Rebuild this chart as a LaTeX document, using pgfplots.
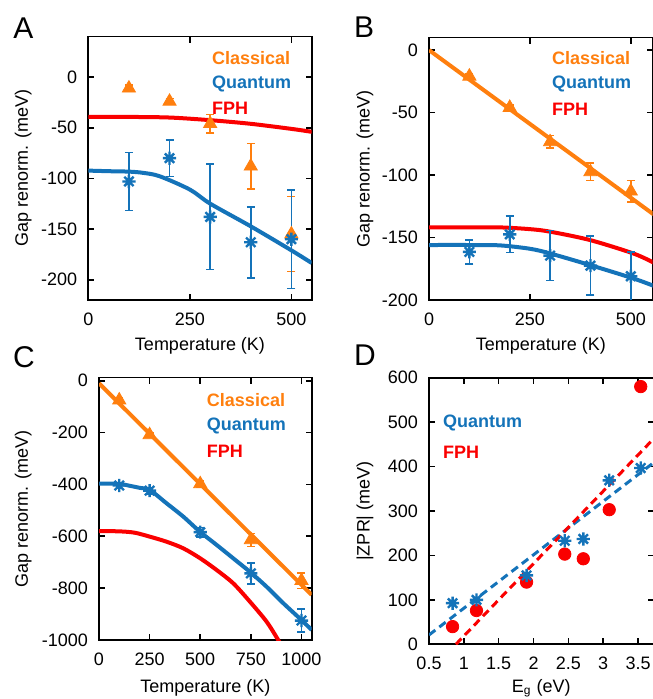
\documentclass[border=0pt]{standalone}
\usepackage{fontspec}
\setmainfont{Liberation Sans}
\usepackage{pgfplots}
\pgfplotsset{compat=1.18}
\definecolor{cls}{RGB}{255,127,14}
\definecolor{qnt}{RGB}{20,115,185}
\definecolor{fph}{RGB}{250,0,0}

% gnuplot-like eight-armed star
\pgfdeclareplotmark{ast8}{%
  \pgfpathmoveto{\pgfqpoint{-\pgfplotmarksize}{0pt}}%
  \pgfpathlineto{\pgfqpoint{\pgfplotmarksize}{0pt}}%
  \pgfpathmoveto{\pgfqpoint{0pt}{-\pgfplotmarksize}}%
  \pgfpathlineto{\pgfqpoint{0pt}{\pgfplotmarksize}}%
  \pgfpathmoveto{\pgfqpoint{-.707\pgfplotmarksize}{-.707\pgfplotmarksize}}%
  \pgfpathlineto{\pgfqpoint{.707\pgfplotmarksize}{.707\pgfplotmarksize}}%
  \pgfpathmoveto{\pgfqpoint{-.707\pgfplotmarksize}{.707\pgfplotmarksize}}%
  \pgfpathlineto{\pgfqpoint{.707\pgfplotmarksize}{-.707\pgfplotmarksize}}%
  \pgfusepathqstroke}

\newcommand{\lab}{\fontsize{9}{10}\selectfont}
\tikzset{leg/.style={anchor=west, inner sep=0pt, font=\bfseries\lab},
  letter/.style={font=\fontsize{15}{17}\selectfont, inner sep=0pt}}
\pgfplotsset{
  pan/.style={
    scale only axis, anchor=south west,
    axis line style={line width=0.9pt},
    tick style={black, line width=0.8pt},
    tick align=inside, major tick length=3pt,
    ticklabel style={font=\lab},
    label style={font=\lab},
    /pgf/number format/assume math mode=true,
    /pgf/number format/1000 sep={},
    xticklabel style={yshift=-3pt},
    yticklabel style={xshift=-2pt},
  },
  curve/.style={line width=2pt, smooth, no marks},
  clpts/.style={only marks, cls, mark=triangle*, mark size=3.8pt,
    error bars/.cd, y dir=both, y explicit,
    error bar style={line width=0.8pt},
    error mark options={rotate=90, mark size=2pt, line width=0.8pt}},
  qpts/.style={only marks, qnt, mark=ast8, mark size=3.3pt, mark options={line width=1.2pt},
    error bars/.cd, y dir=both, y explicit,
    error bar style={line width=0.8pt},
    error mark options={rotate=90, mark size=2pt, line width=0.8pt}},
}

\begin{document}
\begin{tikzpicture}
% ---------- A ----------
\begin{axis}[pan, at={(44.15pt,199.5pt)}, width=111.7pt, height=131.7pt,
  xmin=0, xmax=550, ymin=-220, ymax=40,
  xtick={0,250,500}, ytick={-200,-150,-100,-50,0},
  xlabel={Temperature (K)}, ylabel={Gap renorm. (meV)},
  xlabel style={at={(axis description cs:0.5,-0.175)}, anchor=center},
  ylabel style={at={(axis description cs:-0.291,0.5)}, anchor=center}]
\addplot[curve, fph] coordinates {(0,-39.2)(100,-39.3)(200,-39.9)(300,-42.5)(400,-46.1)(500,-51.1)(550,-54)};
\addplot[clpts] coordinates {
  (100,-11) +- (0,3)
  (200,-24) +- (0,3)
  (300,-46) +- (0,9)
  (400,-88) +- (0,22.5)
  (500,-155) +- (0,37)};
\addplot[curve, qnt] coordinates {(0,-92.3)(53,-92.9)(100,-93.3)(135,-94.5)(176,-97.9)(250,-111)(300,-124.9)(400,-147.3)(500,-171)(550,-183.5)};
\addplot[qpts] coordinates {
  (100,-103) +- (0,28.5)
  (200,-80) +- (0,18)
  (300,-138) +- (0,52)
  (400,-163) +- (0,35)
  (500,-160) +- (0,48.5)};
\node[leg, text=cls] at (rel axis cs:0.552,0.918) {Classical};
\node[leg, text=qnt] at (rel axis cs:0.552,0.821) {Quantum};
\node[leg, text=fph] at (rel axis cs:0.552,0.729) {FPH};
\end{axis}
% ---------- B ----------
\begin{axis}[pan, at={(214.5pt,199.5pt)}, width=111.8pt, height=131.2pt,
  xmin=0, xmax=554, ymin=-200, ymax=10,
  xtick={0,250,500}, ytick={-200,-150,-100,-50,0},
  xlabel={Temperature (K)}, ylabel={Gap renorm. (meV)},
  xlabel style={at={(axis description cs:0.5,-0.175)}, anchor=center},
  ylabel style={at={(axis description cs:-0.286,0.5)}, anchor=center}]
\addplot[line width=2pt, cls] coordinates {(0,0)(556,-131.4)};
\addplot[clpts] coordinates {
  (100,-21) +- (0,2)
  (200,-46) +- (0,2)
  (300,-73.5) +- (0,5)
  (400,-97.5) +- (0,7)
  (500,-113) +- (0,8.5)};
\addplot[curve, fph] coordinates {(0,-141.9)(100,-141.9)(175.7,-141.9)(250,-143.3)(299.5,-145.3)(398.5,-152)(505.7,-162.7)(556,-170)};
\addplot[curve, qnt] coordinates {(0,-156)(100,-156)(175.7,-156.3)(250,-159)(299.5,-162.7)(398.5,-172)(505.7,-182.7)(556,-188.6)};
\addplot[qpts] coordinates {
  (100,-161.5) +- (0,9.5)
  (200,-147.5) +- (0,14.5)
  (300,-164.5) +- (0,20)
  (400,-172.5) +- (0,23.7)
  (500,-181) +- (0,19.5)};
\node[leg, text=cls] at (rel axis cs:0.549,0.921) {Classical};
\node[leg, text=qnt] at (rel axis cs:0.549,0.824) {Quantum};
\node[leg, text=fph] at (rel axis cs:0.549,0.728) {FPH};
\end{axis}
% ---------- C ----------
\begin{axis}[pan, at={(49.5pt,29.5pt)}, width=106.3pt, height=131.2pt,
  xmin=0, xmax=1050, ymin=-1000, ymax=12,
  xtick={0,250,500,750,1000}, ytick={-1000,-800,-600,-400,-200,0},
  xlabel={Temperature (K)}, ylabel={Gap renorm. (meV)},
  xlabel style={at={(axis description cs:0.5,-0.184)}, anchor=center},
  ylabel style={at={(axis description cs:-0.356,0.5)}, anchor=center}]
\addplot[line width=2pt, cls] coordinates {(0,-10)(1050,-826)};
\addplot[clpts] coordinates {
  (100,-75) +- (0,8)
  (250,-209) +- (0,8)
  (500,-398) +- (0,12)
  (750,-614) +- (0,25)
  (1000,-771) +- (0,30)};
\addplot[curve, fph] coordinates {(0,-580)(100,-581)(175,-586)(251.6,-601.6)(334,-621)(416.4,-646.5)(500,-685)(580.8,-730)(663,-781.4)(745.2,-852)(827.4,-929)(884.9,-1000)(920,-1050)};
\addplot[curve, qnt] coordinates {(0,-397)(100,-398)(150,-405)(200,-413)(251.6,-422)(334,-473)(416,-524)(498,-582)(582,-634)(663,-685)(745,-737)(827,-794)(910,-858)(1000,-923)(1050,-961)};
\addplot[qpts] coordinates {
  (100,-404) +- (0,12)
  (250,-424) +- (0,12)
  (500,-584) +- (0,18)
  (750,-743) +- (0,40)
  (1000,-925) +- (0,45)};
\node[leg, text=cls] at (rel axis cs:0.506,0.915) {Classical};
\node[leg, text=qnt] at (rel axis cs:0.506,0.817) {Quantum};
\node[leg, text=fph] at (rel axis cs:0.506,0.718) {FPH};
\end{axis}
% ---------- D ----------
\begin{axis}[pan, at={(214.5pt,27.35pt)}, width=112.3pt, height=133.3pt,
  xmin=0.5, xmax=3.723, ymin=0, ymax=600,
  xtick={0.5,1,1.5,2,2.5,3,3.5}, ytick={0,100,200,300,400,500,600},
  xlabel={E\textsubscript{g} (eV)}, ylabel={|ZPR| (meV)},
  xlabel style={at={(axis description cs:0.5,-0.164)}, anchor=center},
  ylabel style={at={(axis description cs:-0.285,0.5)}, anchor=center}]
\addplot[line width=1.5pt, qnt, dash pattern=on 4pt off 2.5pt] coordinates {(0.5,21)(3.75,412)};
\addplot[line width=1.5pt, fph, dash pattern=on 4pt off 2.5pt] coordinates {(0.886,0)(3.75,467)};
\addplot[only marks, fph, mark=*, mark size=3.1pt] coordinates {(0.838,39.8)(1.181,76)(1.90,140)(2.448,203)(2.714,192.5)(3.086,303)(3.538,580)};
\addplot[only marks, qnt, mark=ast8, mark size=3.3pt, mark options={line width=1.2pt}] coordinates {(0.838,92.5)(1.181,100)(1.90,155)(2.448,233)(2.714,237)(3.086,369)(3.538,396.7)};
\node[leg, text=qnt] at (rel axis cs:0.061,0.831) {Quantum};
\node[leg, text=fph] at (rel axis cs:0.061,0.722) {FPH};
\end{axis}
% panel letters
\node[letter] at (11.65pt,335.5pt) {A};
\node[letter] at (182pt,335.75pt) {B};
\node[letter] at (12pt,171.15pt) {C};
\node[letter] at (182.5pt,172pt) {D};
\pgfresetboundingbox
\path[use as bounding box] (0,0) rectangle (326pt,349.5pt);
\end{tikzpicture}
\end{document}
